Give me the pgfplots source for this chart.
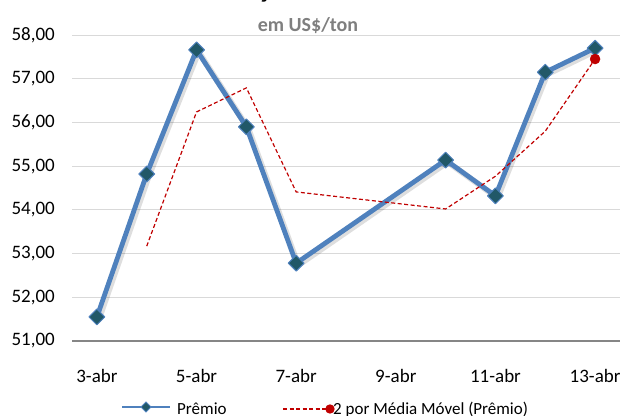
\documentclass[border=0pt]{standalone}
\usepackage{pgfplots}
\pgfplotsset{compat=1.18}
\usepackage{fontspec}
\setmainfont{Carlito}
\definecolor{lineblue}{HTML}{4F81BD}
\definecolor{markfill}{HTML}{215868}
\definecolor{mared}{HTML}{C00000}
\definecolor{gridgray}{HTML}{D9D9D9}
\definecolor{axgray}{HTML}{868686}
\definecolor{subgray}{HTML}{7F7F7F}
\begin{document}
\begin{tikzpicture}
\useasboundingbox (0pt,0pt) rectangle (623pt,415pt);
\node[font=\bfseries\fontsize{28}{30}\selectfont, anchor=base, inner sep=0pt] at (314pt,417pt) {Cotação do Prêmio};
\node[font=\bfseries\fontsize{20}{22}\selectfont, text=subgray, anchor=base, inner sep=0pt] at (308pt,383pt) {em US\$/ton};
\begin{axis}[
  at={(72pt,74pt)}, anchor=south west,
  scale only axis, width=548pt, height=306pt,
  xmin=2.5, xmax=13.5, ymin=51, ymax=58,
  xtick={3,5,7,9,11,13},
  xticklabels={3-abr,5-abr,7-abr,9-abr,11-abr,13-abr},
  ytick={51,52,...,58},
  yticklabel style={/pgf/number format/fixed, /pgf/number format/fixed zerofill, /pgf/number format/precision=2, /pgf/number format/use comma, /pgf/number format/assume math mode=true, inner sep=0pt, anchor=east, xshift=-17pt},
  tick label style={font=\fontsize{19}{21}\selectfont, text=black},
  xticklabel style={inner sep=0pt, anchor=north, yshift=-28pt},
  axis line style={draw=none},
  tick style={draw=none},
  ymajorgrids, grid style={gridgray, line width=1pt},
  clip=false,
]
\draw[axgray, line width=1.3pt] (axis cs:2.5,51) -- (axis cs:13.5,51);
% shadow
\addplot[forget plot, black, opacity=0.13, line width=6pt, xshift=2pt, yshift=-2pt, line join=round] coordinates {
(3,51.55) (4,54.82) (5,57.66) (6,55.90) (7,52.78) (10,55.14) (11,54.32) (12,57.15) (13,57.70)};
\addplot[lineblue, line width=4.8pt, line join=round, mark=square*, mark size=5.6pt,
  mark options={rotate=45, fill=markfill, draw=lineblue, line width=1pt}]
coordinates {
(3,51.55) (4,54.82) (5,57.66) (6,55.90) (7,52.78) (10,55.14) (11,54.32) (12,57.15) (13,57.70)};
\addplot[mared, line width=1.2pt, dash pattern=on 4pt off 2.5pt]
coordinates {
(4,53.17) (5,56.24) (6,56.79) (7,54.41) (10,54.02) (11,54.77) (12,55.80) (13,57.45)};
\addplot[only marks, mark=*, mark size=5pt, mared] coordinates {(13,57.45)};
\end{axis}
% legend
\draw[lineblue, line width=1.8pt] (122pt,8pt) -- (170pt,8pt);
\fill[markfill, draw=lineblue, line width=0.8pt, rotate around={45:(146pt,8pt)}] (142.5pt,4.5pt) rectangle (149.5pt,11.5pt);
\node[anchor=base west, inner sep=0pt, font=\fontsize{17}{19}\selectfont] at (177pt,1pt) {Prêmio};
\draw[mared, line width=1.5pt, dash pattern=on 4pt off 2.5pt] (283pt,6pt) -- (327pt,6pt);
\fill[mared] (330pt,6pt) circle (4.7pt);
\node[anchor=base west, inner sep=0pt, font=\fontsize{17}{19}\selectfont] at (333pt,1pt) {2 por Média Móvel (Prêmio)};
\end{tikzpicture}
\end{document}
